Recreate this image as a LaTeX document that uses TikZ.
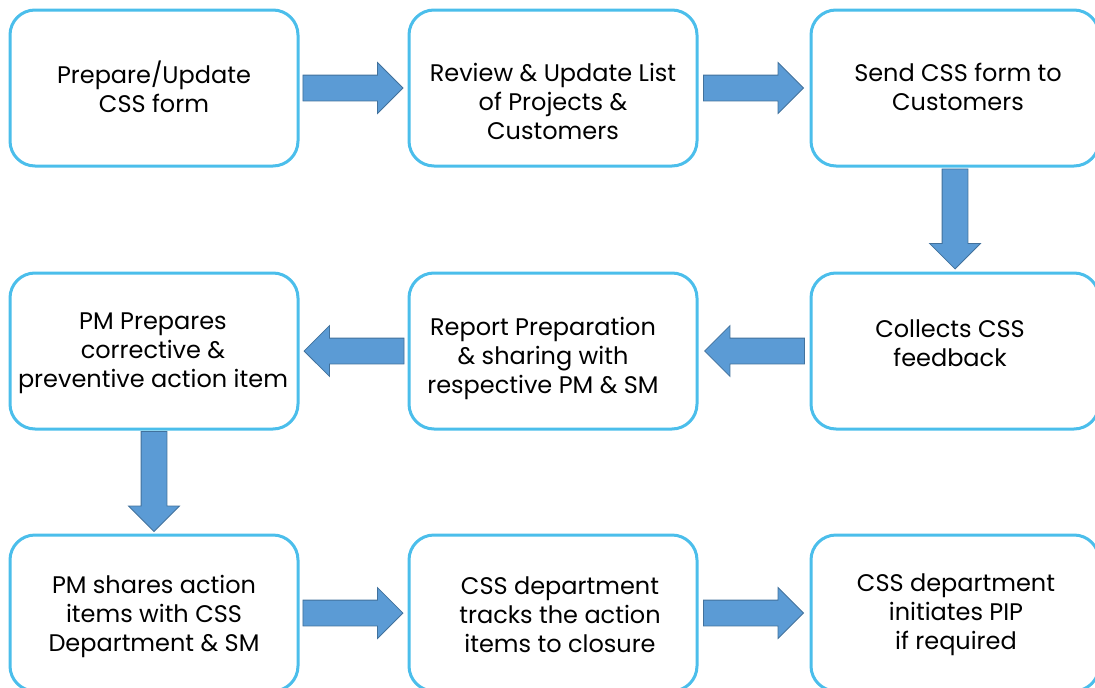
\documentclass[tikz,border=0pt]{standalone}
\usepackage{fontspec}
\setmainfont{Poppins}
\usetikzlibrary{shapes.arrows,calc,positioning}

\definecolor{boxblue}{RGB}{75,190,235}
\definecolor{arrowfill}{RGB}{91,155,213}
\definecolor{arrowline}{RGB}{65,113,156}

\begin{document}
\begin{tikzpicture}[x=1pt,y=-1pt,
  stepbox/.style={draw=boxblue, line width=3pt, rounded corners=25pt,
    minimum width=288pt, minimum height=156pt, fill=white},
  boxtext/.style={align=center, inner sep=0pt, font=\fontsize{24}{29}\selectfont},
  bigarrow/.style={single arrow, draw=arrowline, fill=arrowfill, line width=0.8pt,
    minimum height=100pt, single arrow head extend=12.5pt,
    inner xsep=0pt, inner ysep=12.5pt, anchor=tip}]
  \useasboundingbox (0,0) rectangle (1095,688);
  \clip (0,0) rectangle (1095,688);

  % draw the boxes
  \node[stepbox] (b1) at (154,88) {};
  \node[stepbox] (b2) at (553,88) {};
  \node[stepbox] (b3) at (955,88) {};
  \node[stepbox] (b4) at (154,351) {};
  \node[stepbox] (b5) at (553,351) {};
  \node[stepbox] (b6) at (955,351) {};
  \node[stepbox] (b7) at (154,613) {};
  \node[stepbox] (b8) at (553,613) {};
  \node[stepbox] (b9) at (955,613) {};

  % the texts
  \node[boxtext] (t1) at (154,87) {Prepare/Update\\CSS form};
  \node[boxtext] (t2) at (553,101) {Review \& Update List\\of Projects \&\\Customers};
  \node[boxtext] (t3) at (958,87) {Send CSS form to\\Customers};
  \node[boxtext] (t4) at (153,353) {PM Prepares\\corrective \&\\preventive action item};
  \node[boxtext] (t5) at (543,358) {Report Preparation\\\& sharing with\\respective PM \& SM};
  \node[boxtext] (t6) at (950,343) {Collects CSS\\feedback};
  \node[boxtext] (t7) at (154,616) {PM shares action\\items with CSS\\Department \& SM};
  \node[boxtext] (t8) at (560,615) {CSS department\\tracks the action\\items to closure};
  \node[boxtext] (t9) at (956,615) {CSS department\\initiates PIP\\if required};

  % block arrows between the steps (tip 50pt past the middle)
  \foreach \a/\b/\r in {b1/b2/0, b2/b3/0, b3/b6/-90, b6/b5/180,
                        b5/b4/180, b4/b7/-90, b7/b8/0, b8/b9/0}
    \node[bigarrow, rotate=\r] (arr-\a) at ($(\a)!0.5!(\b)!50pt!(\b)$) {};
\end{tikzpicture}
\end{document}
